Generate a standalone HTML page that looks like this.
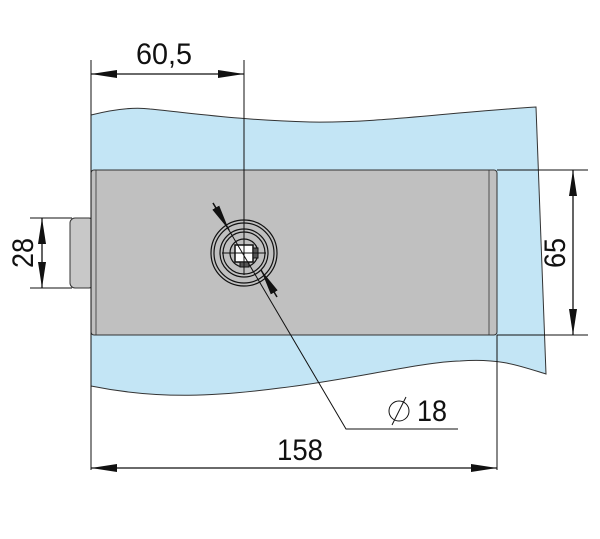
<!DOCTYPE html>
<html><head><style>body{margin:0;background:#fff}svg{display:block}text{font-family:"Liberation Sans Narrow","Liberation Sans",sans-serif;fill:#111}</style></head>
<body>
<svg width="600" height="539" viewBox="0 0 600 539" xmlns="http://www.w3.org/2000/svg">
<defs>
<marker id="b" viewBox="0 0 10 10" refX="10" refY="5" markerWidth="26" markerHeight="8" preserveAspectRatio="none" orient="auto-start-reverse" markerUnits="userSpaceOnUse"><path d="M0,0L10,5L0,10z" fill="#111"/></marker></defs>
<path d="M91,115 C115,109 135,107 150,109 C200,114 240,120 310,122 C380,123 440,113 536,107 L546,374 C520,366 500,358 460,361 C420,362 350,380 280,388 C220,396 160,400 91,386 Z" fill="#c3e5f5" stroke="#333" stroke-width="1"/>
<rect x="70" y="218" width="24" height="70" rx="5" fill="#c8c8c8" stroke="#333"/>
<rect x="91" y="170" width="406" height="165" rx="3" fill="#c0c0c0" stroke="#333"/>
<rect x="96" y="170" width="393" height="165" fill="none" stroke="#333" stroke-width="0.8"/>
<g fill="none" stroke="#111" stroke-width="1.2">
<circle cx="244" cy="253" r="33"/><circle cx="244" cy="253" r="30"/><circle cx="244" cy="253" r="24"/><circle cx="244" cy="253" r="21"/>
<circle cx="244" cy="253" r="14"/>
</g>
<rect x="235" y="245" width="18" height="17" fill="#fff" stroke="#111" stroke-width="1.5"/>
<rect x="253" y="248" width="5" height="10" fill="#555" stroke="#111"/>
<rect x="240" y="262" width="9" height="5" fill="#555" stroke="#111"/>
<g stroke="#111" stroke-width="1" fill="none">
<line x1="222" y1="253" x2="266" y2="253"/><line x1="244" y1="231" x2="244" y2="275"/>
<line x1="91" y1="60" x2="91" y2="470"/><line x1="244" y1="60" x2="244" y2="253"/>
<line x1="91" y1="74" x2="244" y2="74" marker-start="url(#b)" marker-end="url(#b)" stroke-width="1.3"/>
<line x1="497" y1="335" x2="497" y2="470"/>
<line x1="91" y1="468" x2="497" y2="468" marker-start="url(#b)" marker-end="url(#b)" stroke-width="1.3"/>
<line x1="497" y1="170" x2="588" y2="170"/><line x1="497" y1="335" x2="588" y2="335"/>
<line x1="573" y1="170" x2="573" y2="335" marker-start="url(#b)" marker-end="url(#b)" stroke-width="1.3"/>
<line x1="30" y1="218" x2="72" y2="218"/><line x1="30" y1="288" x2="72" y2="288"/>
<line x1="42" y1="218" x2="42" y2="288" marker-start="url(#b)" marker-end="url(#b)" stroke-width="1.3"/>
<path d="M213,203 L346,429 L458,429"/>
<line x1="213" y1="203" x2="229" y2="230" marker-end="url(#b)" stroke-width="1.5"/>
<line x1="277" y1="297" x2="261" y2="270" marker-end="url(#b)" stroke-width="1.5"/>
<circle cx="399" cy="411" r="10"/>
<line x1="392" y1="425" x2="406" y2="397"/>
</g>
<text x="164" y="64" font-size="30" text-anchor="middle" textLength="56" lengthAdjust="spacingAndGlyphs">60,5</text>
<text x="300" y="460" font-size="30" text-anchor="middle" textLength="46" lengthAdjust="spacingAndGlyphs">158</text>
<text x="432" y="421" font-size="30" text-anchor="middle" textLength="30" lengthAdjust="spacingAndGlyphs">18</text>
<text transform="translate(565,253) rotate(-90)" font-size="30" text-anchor="middle" textLength="30" lengthAdjust="spacingAndGlyphs">65</text>
<text transform="translate(33,253) rotate(-90)" font-size="30" text-anchor="middle" textLength="30" lengthAdjust="spacingAndGlyphs">28</text>
</svg>
</body></html>
